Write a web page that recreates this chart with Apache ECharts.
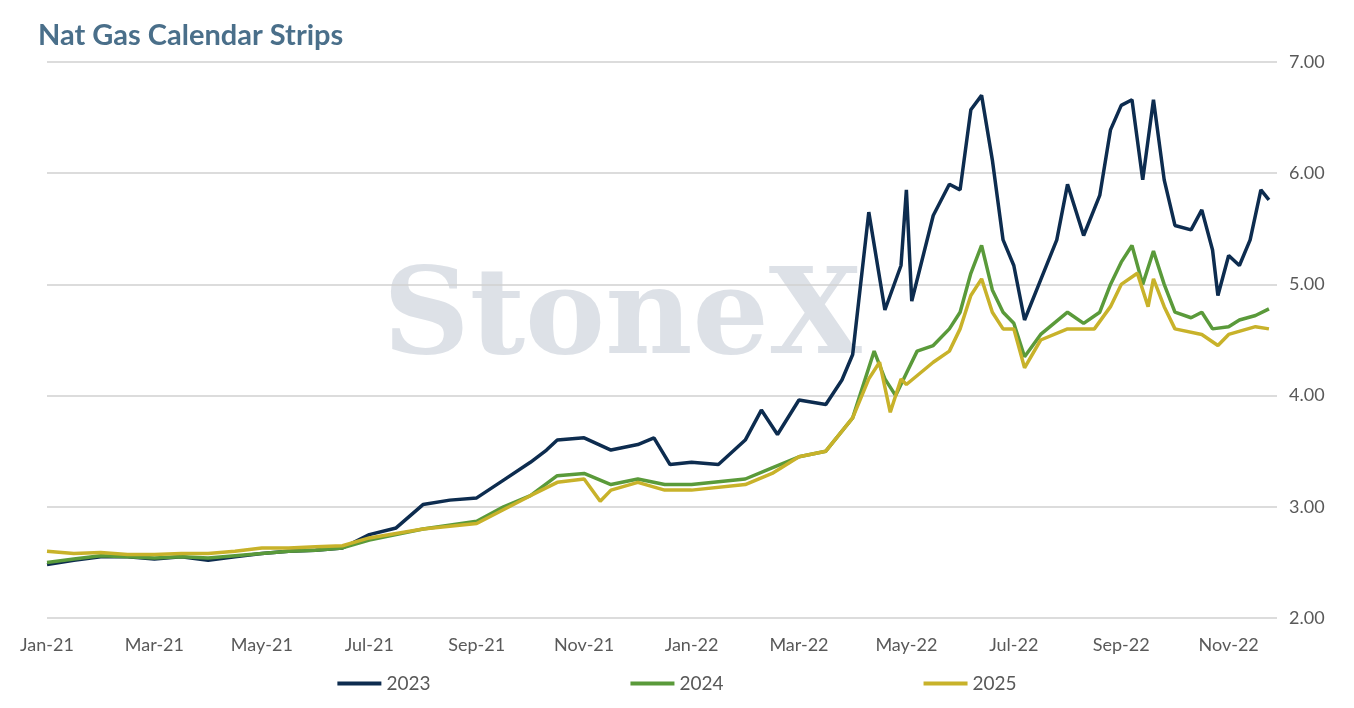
<!DOCTYPE html>
<html><head><meta charset="utf-8">
<script src="https://cdn.jsdelivr.net/npm/echarts@6/dist/echarts.min.js"></script>
<style>html,body{margin:0;padding:0;background:#fff}#c{width:1354px;height:708px}</style>
</head><body><div id="c"></div>
<script>
const monthLabels = ["Jan-21","Mar-21","May-21","Jul-21","Sep-21","Nov-21","Jan-22","Mar-22","May-22","Jul-22","Sep-22","Nov-22"];
const x2023 = [0,0.5,1,1.5,2,2.5,3,3.5,4,4.5,5,5.5,6,6.5,7,7.5,8,8.5,9,9.3,9.5,10,10.5,11,11.3,11.6,12,12.5,13,13.3,13.6,14,14.5,14.8,15,15.3,15.6,15.9,16,16.1,16.5,16.8,17,17.2,17.4,17.6,17.8,18,18.2,18.5,18.8,19,19.3,19.6,19.8,20,20.2,20.4,20.6,20.8,21,21.3,21.5,21.7,21.8,22,22.2,22.4,22.6,22.75];
const v2023 = [2.48,2.52,2.55,2.55,2.53,2.55,2.52,2.55,2.58,2.60,2.61,2.63,2.75,2.81,3.02,3.06,3.08,3.24,3.40,3.51,3.60,3.62,3.51,3.56,3.62,3.38,3.40,3.38,3.60,3.87,3.65,3.96,3.92,4.14,4.37,5.65,4.77,5.17,5.85,4.85,5.62,5.90,5.85,6.57,6.70,6.12,5.40,5.17,4.68,5.04,5.40,5.90,5.44,5.80,6.39,6.61,6.66,5.94,6.66,5.94,5.53,5.49,5.67,5.31,4.90,5.26,5.17,5.40,5.85,5.76];
const x2024 = [0,0.5,1,1.5,2,2.5,3,3.5,4,4.5,5,5.5,6,7,8,8.5,9,9.5,10,10.5,11,11.5,12,13,13.5,14,14.5,15,15.3,15.4,15.6,15.8,16,16.2,16.5,16.8,17,17.2,17.4,17.6,17.8,18,18.2,18.5,19,19.3,19.6,19.8,20,20.2,20.4,20.6,20.8,21,21.3,21.5,21.7,22,22.2,22.5,22.75];
const v2024 = [2.50,2.53,2.56,2.55,2.54,2.55,2.54,2.56,2.58,2.60,2.61,2.63,2.70,2.80,2.87,3.00,3.10,3.28,3.30,3.20,3.25,3.20,3.20,3.25,3.35,3.45,3.50,3.80,4.25,4.40,4.15,4.00,4.20,4.40,4.45,4.60,4.75,5.10,5.35,4.95,4.75,4.65,4.35,4.55,4.75,4.65,4.75,5.00,5.20,5.35,5.00,5.30,5.00,4.75,4.70,4.75,4.60,4.62,4.68,4.72,4.78];
const x2025 = [0,0.5,1,1.5,2,2.5,3,3.5,4,4.5,5,5.5,6,7,8,9,9.5,10,10.3,10.5,11,11.5,12,13,13.5,14,14.5,15,15.3,15.5,15.7,15.9,16,16.5,16.8,17,17.2,17.4,17.6,17.8,18,18.2,18.5,19,19.5,19.8,20,20.3,20.5,20.6,20.8,21,21.5,21.8,22,22.5,22.75];
const v2025 = [2.60,2.58,2.59,2.57,2.57,2.58,2.58,2.60,2.63,2.63,2.64,2.65,2.72,2.80,2.85,3.10,3.22,3.25,3.05,3.15,3.22,3.15,3.15,3.20,3.30,3.45,3.50,3.80,4.15,4.30,3.85,4.15,4.10,4.30,4.40,4.60,4.90,5.05,4.75,4.60,4.60,4.25,4.50,4.60,4.60,4.80,5.00,5.10,4.80,5.05,4.80,4.60,4.55,4.45,4.55,4.62,4.60];
const yTicks = [2,3,4,5,6,7];

const zip = (xs, vs) => xs.map((x, i) => [x, vs[i]]);
const chart = echarts.init(document.getElementById('c'));
const mk = (name, xs, vs, color) => ({name, type:'line', data: zip(xs, vs), showSymbol:false, smooth:false, lineStyle:{width:3.5, color}, itemStyle:{color}});
chart.setOption({
  animation:false,
  title:{text:'Nat Gas Calendar Strips', left:33, top:16, textStyle:{fontFamily:'Lato', fontSize:29, fontWeight:'bold', color:'#4a6f8a'}},
  graphic:[{type:'text', left:383, top:262, style:{text:'StoneX', font:'bold 120px "DejaVu Serif"', fill:'rgba(170,180,195,0.4)'}, z:-1}],
  grid:{left:47, right:77, top:62, bottom:90},
  legend:{bottom:10, left:'center', itemGap:200, itemWidth:44, icon:'rect', itemHeight:4, textStyle:{fontFamily:'Lato', fontSize:19, color:'#595959'},
    data:['2023','2024','2025']},
  xAxis:{type:'value', min:0, max:22.9, interval:2,
    axisLine:{show:false}, axisTick:{show:false}, splitLine:{show:false},
    axisLabel:{fontFamily:'Lato', fontSize:18, color:'#595959', margin:18, showMaxLabel:false,
      formatter:v => monthLabels[Math.round(v/2)] || ''}},
  yAxis:{type:'value', position:'right', min:2, max:7, interval:1,
    axisLine:{show:false}, axisTick:{show:false},
    splitLine:{lineStyle:{color:'#d0d0d0', width:1.5}},
    axisLabel:{fontFamily:'Lato', fontSize:18, color:'#595959', margin:12, formatter:v => yTicks.includes(v) ? v.toFixed(2) : ''}},
  series:[mk('2023',x2023,v2023,'#0d2c4f'), mk('2024',x2024,v2024,'#5a9a3a'), mk('2025',x2025,v2025,'#c8b22a')]
});
</script></body></html>
